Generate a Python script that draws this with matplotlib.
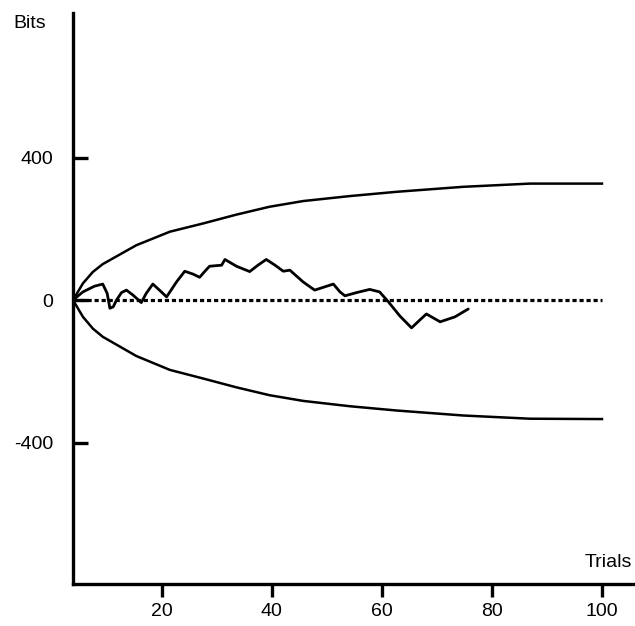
import matplotlib.pyplot as plt

plt.rcParams['font.family'] = ['Liberation Sans', 'DejaVu Sans']
plt.rcParams['axes.unicode_minus'] = False

# envelope curves
env_x = [3.9, 5.7, 7.5, 9.3, 15.4, 21.5, 27.5, 33.6, 39.6, 45.7, 54.2, 62.7, 74.8, 86.9, 100]
env_upper = [0, 47, 79, 101, 154, 192, 215, 240, 262, 278, 292, 304, 318, 327, 327]
env_lower = [0, -47, -80, -103, -157, -196, -220, -245, -267, -283, -298, -310, -324, -333, -334]

# cumulative score curve
trial = [3.9, 5.7, 7.8, 9.3, 10.1, 10.6, 11.2, 11.8, 12.7, 13.6, 14.8, 16.3, 17.2,
         18.4, 19.6, 20.9, 22.7, 24.2, 25.7, 26.9, 27.8, 28.7, 30.9, 31.5, 33.6,
         36.0, 37.5, 39.0, 40.6, 42.1, 43.3, 45.7, 47.8, 49.6, 51.2, 52.4, 53.3,
         55.4, 57.8, 59.6, 61.2, 63.3, 65.4, 66.9, 68.1, 70.6, 73.3, 75.7]
bits = [0, 23, 39, 45, 19, -23, -19, 0, 21, 28, 14, -7, 19,
        45, 28, 9, 51, 81, 73, 64, 80, 95, 98, 114, 95,
        80, 98, 114, 98, 81, 84, 51, 28, 37, 45, 23, 12,
        21, 30, 23, -5, -45, -78, -56, -39, -61, -47, -25]

zero_x = [3.9, 100]
zero_y = [0, 0]

x_ticks = [20, 40, 60, 80, 100]
y_ticks = [-400, 0, 400]

fig = plt.figure(figsize=(6.35, 6.26), dpi=100)
ax = fig.add_axes([0.115, 0.0671, 0.885, 0.9116])

ax.plot(env_x, env_upper, color='black', lw=1.8)
ax.plot(env_x, env_lower, color='black', lw=1.8)
ax.plot(zero_x, zero_y, color='black', lw=2.3, linestyle=(0, (1.3, 0.9)), dash_capstyle='butt')
ax.plot(trial, bits, color='black', lw=2.0, solid_joinstyle='round', solid_capstyle='round')

ax.set_xlim(3.9, 106)
ax.set_ylim(-797, 805)

for s in ['top', 'right']:
    ax.spines[s].set_visible(False)
for s in ['left', 'bottom']:
    ax.spines[s].set_linewidth(2.4)

ax.set_xticks(x_ticks)
ax.set_yticks(y_ticks)
ax.tick_params(axis='x', direction='out', length=9, width=2.4, pad=5, labelsize=14)
ax.tick_params(axis='y', direction='in', length=11, width=2.4, pad=14, labelsize=14)

fig.text(0.047, 0.962, 'Bits', fontsize=14, ha='center', va='center')
fig.text(0.958, 0.102, 'Trials', fontsize=14, ha='center', va='center')

fig.savefig('out.png', dpi=100)
